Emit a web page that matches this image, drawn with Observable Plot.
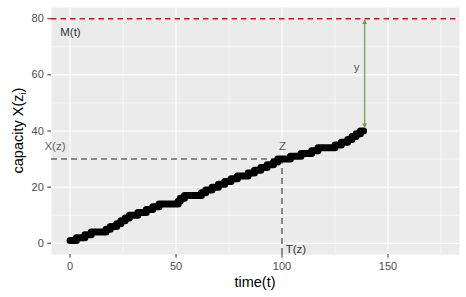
<!DOCTYPE html>
<html><head><meta charset="utf-8">
<script src="https://cdn.jsdelivr.net/npm/d3@7"></script>
<script src="https://cdn.jsdelivr.net/npm/@observablehq/plot@0.6"></script>
<style>body{margin:0;background:#fff}</style>
</head><body><div id="chart"></div>
<script>
// step series: time at which capacity steps to the given value
const stepTime =     [0, 3, 7, 10, 17, 19, 22, 24, 26, 28, 32, 36, 39, 42, 51, 52, 54, 62, 64, 67, 70, 73, 76, 79, 84, 87, 90, 93, 96, 98, 104, 109, 114, 117, 125, 128, 131, 133, 135, 137, 138.5];
const stepCapacity = [1, 2, 3, 4,  5,  6,  7,  8,  9,  10, 11, 12, 13, 14, 15, 16, 17, 18, 19, 20, 21, 22, 23, 24, 25, 26, 27, 28, 29, 30, 31,  32,  33,  34,  35,  36,  37,  38,  39,  40,  40];
const xTicks = [0, 50, 100, 150];
const yTicks = [0, 20, 40, 60, 80];
const xMinor = [25, 75, 125, 175];
const yMinor = [10, 30, 50, 70];
const maxCapacity = [80];
const zTime = [100];
const zCapacity = [30];
const gapTime = [139];
const gapTop = [79.6];
const gapBottom = [41.2];
const labelText = ["M(t)", "X(z)", "Z", "T(z)", "y"];
const labelTime = [0.2, -7.1, 100.3, 106.6, 135.2];
const labelCapacity = [75.3, 34.5, 34.7, -2.2, 62.6];
const labelColors = ["#333333", "#666666", "#555555", "#333333", "#555555"];

const series = stepTime.map((t, i) => ({t, c: stepCapacity[i]}));
const labels = labelText.map((s, i) => ({s, t: labelTime[i], c: labelCapacity[i], col: labelColors[i]}));
const gap = gapTime.map((t, i) => ({t, top: gapTop[i], bottom: gapBottom[i]}));
const xDomain = [-8.75, 183.75], yDomain = [-4, 84];
const green = "#6e9f45";

const plot = Plot.plot({
  width: 466, height: 297,
  marginLeft: 51, marginRight: 7, marginTop: 7, marginBottom: 43,
  x: {domain: xDomain},
  y: {domain: yDomain},
  style: {fontFamily: "'Liberation Sans', Arial, sans-serif", fontSize: "11px", background: "white", overflow: "visible"},
  marks: [
    Plot.frame({fill: "#EBEBEB", stroke: "none"}),
    Plot.ruleX(xMinor, {stroke: "white", strokeWidth: 0.55}),
    Plot.ruleY(yMinor, {stroke: "white", strokeWidth: 0.55}),
    Plot.ruleX(xTicks, {stroke: "white", strokeWidth: 1.1}),
    Plot.ruleY(yTicks, {stroke: "white", strokeWidth: 1.1}),
    Plot.axisX({ticks: xTicks, tickSize: 3.7, tickPadding: 3.5, stroke: "#333", fill: "#4d4d4d", label: null}),
    Plot.axisY({ticks: yTicks, tickSize: 3.7, tickPadding: 4, stroke: "#333", fill: "#4d4d4d", label: null}),
    Plot.ruleY(maxCapacity, {stroke: "red", strokeWidth: 1.3, strokeDasharray: "5.5,4"}),
    Plot.ruleY(zCapacity, {x1: xDomain[0], x2: zTime[0], stroke: "#666", strokeWidth: 1.5, strokeDasharray: "6,4"}),
    Plot.ruleX(zTime, {y1: yDomain[0], y2: zCapacity[0], stroke: "#666", strokeWidth: 1.5, strokeDasharray: "6,4"}),
    Plot.line(series, {x: "t", y: "c", curve: "step-after", stroke: "black", strokeWidth: 7, strokeLinecap: "round", strokeLinejoin: "round"}),
    Plot.link(gap, {x1: "t", x2: "t", y1: "top", y2: "bottom", stroke: green, strokeWidth: 1.5, strokeOpacity: 0.85}),
    Plot.dot(gap, {x: "t", y: "top", symbol: "triangle", r: 1.8, fill: green, stroke: "none", dy: 2.8}),
    Plot.dot(gap, {x: "t", y: "bottom", symbol: "triangle", rotate: 180, r: 1.8, fill: green, stroke: "none", dy: -2.8}),
    Plot.text(labels, {x: "t", y: "c", text: "s", fill: "col", fontSize: 11.5})
  ]
});
document.getElementById("chart").appendChild(plot);

const svg = d3.select(plot);
svg.append("text").attr("x", 255).attr("y", 287).attr("text-anchor", "middle")
  .attr("font-size", "14.5px").attr("fill", "black").text("time(t)");
const yt = svg.append("text").attr("transform", "translate(22.5,130.5) rotate(-90)")
  .attr("text-anchor", "middle").attr("font-size", "14.5px").attr("fill", "black");
yt.append("tspan").text("capacity X(z");
yt.append("tspan").attr("font-size", "9.5px").attr("dy", "3").text("i");
yt.append("tspan").attr("dy", "-3").text(")");
</script>
</body></html>
